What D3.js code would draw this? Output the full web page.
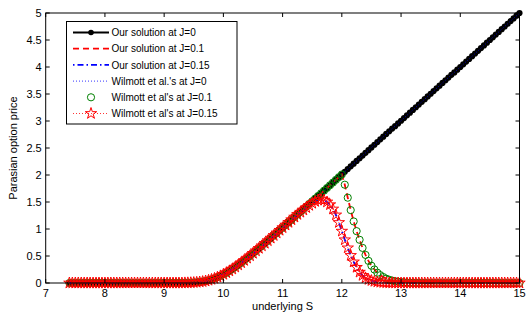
<!DOCTYPE html>
<html>
<head>
<meta charset="utf-8">
<script src="https://cdn.jsdelivr.net/npm/d3@7"></script>
<style>
  body { margin: 0; background: #fff; }
  svg text { font-family: "Liberation Sans", Arial, sans-serif; fill: #000; }
</style>
</head>
<body>
<svg id="chart" width="526" height="314"></svg>
<script>
// underlying S grid
var sGrid = [
  7.40,7.45,7.50,7.55,7.60,7.65,7.70,7.75,7.80,7.85,
  7.90,7.95,8.00,8.05,8.10,8.15,8.20,8.25,8.30,8.35,
  8.40,8.45,8.50,8.55,8.60,8.65,8.70,8.75,8.80,8.85,
  8.90,8.95,9.00,9.05,9.10,9.15,9.20,9.25,9.30,9.35,
  9.40,9.45,9.50,9.55,9.60,9.65,9.70,9.75,9.80,9.85,
  9.90,9.95,10.00,10.05,10.10,10.15,10.20,10.25,10.30,10.35,
  10.40,10.45,10.50,10.55,10.60,10.65,10.70,10.75,10.80,10.85,
  10.90,10.95,11.00,11.05,11.10,11.15,11.20,11.25,11.30,11.35,
  11.40,11.45,11.50,11.55,11.60,11.65,11.70,11.75,11.80,11.85,
  11.90,11.95,12.00,12.05,12.10,12.15,12.20,12.25,12.30,12.35,
  12.40,12.45,12.50,12.55,12.60,12.65,12.70,12.75,12.80,12.85,
  12.90,12.95,13.00,13.05,13.10,13.15,13.20,13.25,13.30,13.35,
  13.40,13.45,13.50,13.55,13.60,13.65,13.70,13.75,13.80,13.85,
  13.90,13.95,14.00,14.05,14.10,14.15,14.20,14.25,14.30,14.35,
  14.40,14.45,14.50,14.55,14.60,14.65,14.70,14.75,14.80,14.85,
  14.90,14.95,15.00
];

// price at J=0
var priceJ0 = [
  0,0,0,0,0,0,0,0,0,0,
  0,0,0,0,0,0,0,0,0,0,
  0,0,0,0,0,0,0,0,0,0,
  0,0,0,0,0,0,0,0,0,0.002,
  0.003,0.005,0.008,0.012,0.018,0.026,0.036,0.05,0.066,0.085,
  0.107,0.132,0.16,0.19,0.223,0.258,0.295,0.334,0.375,0.417,
  0.46,0.504,0.549,0.595,0.641,0.688,0.735,0.783,0.831,0.879,
  0.927,0.976,1.024,1.073,1.122,1.171,1.22,1.269,1.318,1.367,
  1.416,1.465,1.514,1.563,1.612,1.661,1.71,1.76,1.81,1.86,
  1.91,1.96,2.01,2.06,2.11,2.16,2.21,2.26,2.31,2.36,
  2.41,2.46,2.51,2.56,2.61,2.66,2.71,2.76,2.81,2.86,
  2.905,2.955,3.005,3.055,3.105,3.155,3.205,3.255,3.305,3.355,
  3.405,3.455,3.505,3.555,3.605,3.655,3.705,3.755,3.805,3.855,
  3.9,3.95,4.0,4.05,4.1,4.15,4.2,4.25,4.3,4.35,
  4.4,4.45,4.5,4.55,4.6,4.65,4.7,4.75,4.8,4.85,
  4.9,4.95,5.0
];

// price at J=0.1
var priceJ10 = [
  0,0,0,0,0,0,0,0,0,0,
  0,0,0,0,0,0,0,0,0,0,
  0,0,0,0,0,0,0,0,0,0,
  0,0,0,0,0,0,0,0,0,0.002,
  0.003,0.005,0.008,0.012,0.018,0.026,0.036,0.05,0.066,0.085,
  0.107,0.132,0.16,0.19,0.223,0.258,0.295,0.334,0.375,0.417,
  0.46,0.504,0.549,0.595,0.641,0.688,0.735,0.783,0.831,0.879,
  0.927,0.976,1.024,1.073,1.122,1.171,1.22,1.269,1.318,1.367,
  1.416,1.465,1.514,1.563,1.612,1.661,1.71,1.76,1.81,1.86,
  1.91,1.96,2.01,1.82,1.58,1.35,1.14,0.96,0.80,0.65,
  0.52,0.41,0.32,0.25,0.19,0.145,0.11,0.08,0.06,0.045,
  0.033,0.024,0.017,0.012,0.008,0.006,0.004,0.003,0.002,0.001,
  0,0,0,0,0,0,0,0,0,0,
  0,0,0,0,0,0,0,0,0,0,
  0,0,0,0,0,0,0,0,0,0,
  0,0,0
];

// price at J=0.15
var priceJ15 = [
  0,0,0,0,0,0,0,0,0,0,
  0,0,0,0,0,0,0,0,0,0,
  0,0,0,0,0,0,0,0,0,0,
  0,0,0,0,0,0,0,0,0,0.002,
  0.003,0.005,0.008,0.012,0.018,0.026,0.036,0.05,0.066,0.085,
  0.107,0.132,0.16,0.19,0.223,0.258,0.295,0.334,0.375,0.417,
  0.46,0.504,0.549,0.595,0.641,0.688,0.735,0.783,0.831,0.879,
  0.927,0.976,1.024,1.073,1.122,1.171,1.22,1.269,1.31,1.352,
  1.395,1.437,1.476,1.51,1.535,1.545,1.535,1.50,1.45,1.37,
  1.26,1.12,0.96,0.80,0.65,0.51,0.39,0.29,0.20,0.14,
  0.095,0.065,0.045,0.03,0.02,0.013,0.008,0.005,0.003,0.002,
  0.001,0,0,0,0,0,0,0,0,0,
  0,0,0,0,0,0,0,0,0,0,
  0,0,0,0,0,0,0,0,0,0,
  0,0,0,0,0,0,0,0,0,0,
  0,0,0
];

var xTicks = [7, 8, 9, 10, 11, 12, 13, 14, 15];
var yTicks = [0, 0.5, 1, 1.5, 2, 2.5, 3, 3.5, 4, 4.5, 5];
var legendLabels = [
  "Our solution at J=0",
  "Our solution at J=0.1",
  "Our solution at J=0.15",
  "Wilmott et al.'s at J=0",
  "Wilmott et al's at J=0.1",
  "Wilmott et al's at J=0.15"
];

(function() {
  var svg = d3.select("#chart");
  var pl = 45.7, pr = 519.5, pt = 13, pb = 283;

  var x = d3.scaleLinear().domain([7, 15]).range([pl, pr]);
  var y = d3.scaleLinear().domain([0, 5]).range([pb, pt]);

  var pts = function(vals) {
    return sGrid.map(function(s, i) { return [s, vals[i]]; });
  };
  var line = d3.line().x(function(d) { return x(d[0]); }).y(function(d) { return y(d[1]); });

  var plot = svg.append("g");

  // our solution J=0: black solid with dots
  plot.append("path").datum(pts(priceJ0)).attr("d", line)
    .attr("fill", "none").attr("stroke", "#000").attr("stroke-width", 2.5);
  plot.selectAll("circle.j0").data(pts(priceJ0)).enter().append("circle")
    .attr("cx", function(d) { return x(d[0]); }).attr("cy", function(d) { return y(d[1]); })
    .attr("r", 3.1).attr("fill", "#000");

  // our solution J=0.1: red dashed
  plot.append("path").datum(pts(priceJ10)).attr("d", line)
    .attr("fill", "none").attr("stroke", "#f00").attr("stroke-width", 1.8)
    .attr("stroke-dasharray", "6,4");

  // our solution J=0.15: blue dash-dot
  plot.append("path").datum(pts(priceJ15)).attr("d", line)
    .attr("fill", "none").attr("stroke", "#00f").attr("stroke-width", 1.8)
    .attr("stroke-dasharray", "6,3,1.5,3");

  // Wilmott J=0: blue dotted
  plot.append("path").datum(pts(priceJ0)).attr("d", line)
    .attr("fill", "none").attr("stroke", "#00f").attr("stroke-width", 0.8)
    .attr("stroke-dasharray", "1,2");

  // Wilmott J=0.1: green circles
  plot.selectAll("circle.w10").data(pts(priceJ10)).enter().append("circle")
    .attr("cx", function(d) { return x(d[0]); }).attr("cy", function(d) { return y(d[1]); })
    .attr("r", 3.6).attr("fill", "none").attr("stroke", "#008000").attr("stroke-width", 1);

  // Wilmott J=0.15: red dotted with stars
  plot.append("path").datum(pts(priceJ15)).attr("d", line)
    .attr("fill", "none").attr("stroke", "#f00").attr("stroke-width", 0.8)
    .attr("stroke-dasharray", "1,2");
  var star = d3.symbol().type(d3.symbolStar).size(40);
  plot.selectAll("path.star").data(pts(priceJ15)).enter().append("path")
    .attr("class", "star")
    .attr("transform", function(d) { return "translate(" + x(d[0]) + "," + y(d[1]) + ")"; })
    .attr("d", star).attr("fill", "none").attr("stroke", "#f00").attr("stroke-width", 1);

  // axes box and ticks
  var axes = svg.append("g");
  axes.append("rect").attr("x", pl).attr("y", pt)
    .attr("width", pr - pl).attr("height", pb - pt)
    .attr("fill", "none").attr("stroke", "#000").attr("stroke-width", 1);

  var tl = 4;
  xTicks.forEach(function(t) {
    axes.append("line").attr("x1", x(t)).attr("x2", x(t)).attr("y1", pb).attr("y2", pb - tl)
      .attr("stroke", "#000");
    axes.append("line").attr("x1", x(t)).attr("x2", x(t)).attr("y1", pt).attr("y2", pt + tl)
      .attr("stroke", "#000");
    axes.append("text").attr("x", x(t)).attr("y", pb + 14)
      .attr("text-anchor", "middle").attr("font-size", 11).text(t);
  });
  yTicks.forEach(function(t) {
    axes.append("line").attr("x1", pl).attr("x2", pl + tl).attr("y1", y(t)).attr("y2", y(t))
      .attr("stroke", "#000");
    axes.append("line").attr("x1", pr).attr("x2", pr - tl).attr("y1", y(t)).attr("y2", y(t))
      .attr("stroke", "#000");
    axes.append("text").attr("x", pl - 4).attr("y", y(t) + 4)
      .attr("text-anchor", "end").attr("font-size", 11).text(t);
  });

  svg.append("text").attr("x", (pl + pr) / 2).attr("y", 310)
    .attr("text-anchor", "middle").attr("font-size", 11).text("underlying S");
  svg.append("text").attr("transform", "translate(17," + ((pt + pb) / 2) + ") rotate(-90)")
    .attr("text-anchor", "middle").attr("font-size", 11).text("Parasian option price");

  // legend
  var lg = svg.append("g");
  lg.append("rect").attr("x", 66.5).attr("y", 21.5).attr("width", 170.5).attr("height", 102.5)
    .attr("fill", "#fff").attr("stroke", "#000").attr("stroke-width", 1);
  var lx0 = 73, lx1 = 109, ly = 32.5, dy = 16.2;
  legendLabels.forEach(function(lbl, i) {
    var yy = ly + i * dy;
    var g = lg.append("g");
    if (i === 0) {
      g.append("line").attr("x1", lx0).attr("x2", lx1).attr("y1", yy).attr("y2", yy)
        .attr("stroke", "#000").attr("stroke-width", 2);
      g.append("circle").attr("cx", (lx0 + lx1) / 2).attr("cy", yy).attr("r", 2.8).attr("fill", "#000");
    } else if (i === 1) {
      g.append("line").attr("x1", lx0).attr("x2", lx1).attr("y1", yy).attr("y2", yy)
        .attr("stroke", "#f00").attr("stroke-width", 1.8).attr("stroke-dasharray", "6,4");
    } else if (i === 2) {
      g.append("line").attr("x1", lx0).attr("x2", lx1).attr("y1", yy).attr("y2", yy)
        .attr("stroke", "#00f").attr("stroke-width", 1.8).attr("stroke-dasharray", "1.5,3,6,3");
    } else if (i === 3) {
      g.append("line").attr("x1", lx0).attr("x2", lx1).attr("y1", yy).attr("y2", yy)
        .attr("stroke", "#00f").attr("stroke-width", 0.8).attr("stroke-dasharray", "1,2");
    } else if (i === 4) {
      g.append("circle").attr("cx", (lx0 + lx1) / 2).attr("cy", yy).attr("r", 3.6)
        .attr("fill", "none").attr("stroke", "#008000").attr("stroke-width", 1);
    } else {
      g.append("line").attr("x1", lx0).attr("x2", lx1).attr("y1", yy).attr("y2", yy)
        .attr("stroke", "#f00").attr("stroke-width", 0.8).attr("stroke-dasharray", "1,2");
      g.append("path").attr("transform", "translate(" + ((lx0 + lx1) / 2) + "," + yy + ")")
        .attr("d", star).attr("fill", "none").attr("stroke", "#f00").attr("stroke-width", 1);
    }
    g.append("text").attr("x", 111.5).attr("y", yy + 3.6).attr("font-size", 10).text(lbl);
  });
})();
</script>
</body>
</html>
